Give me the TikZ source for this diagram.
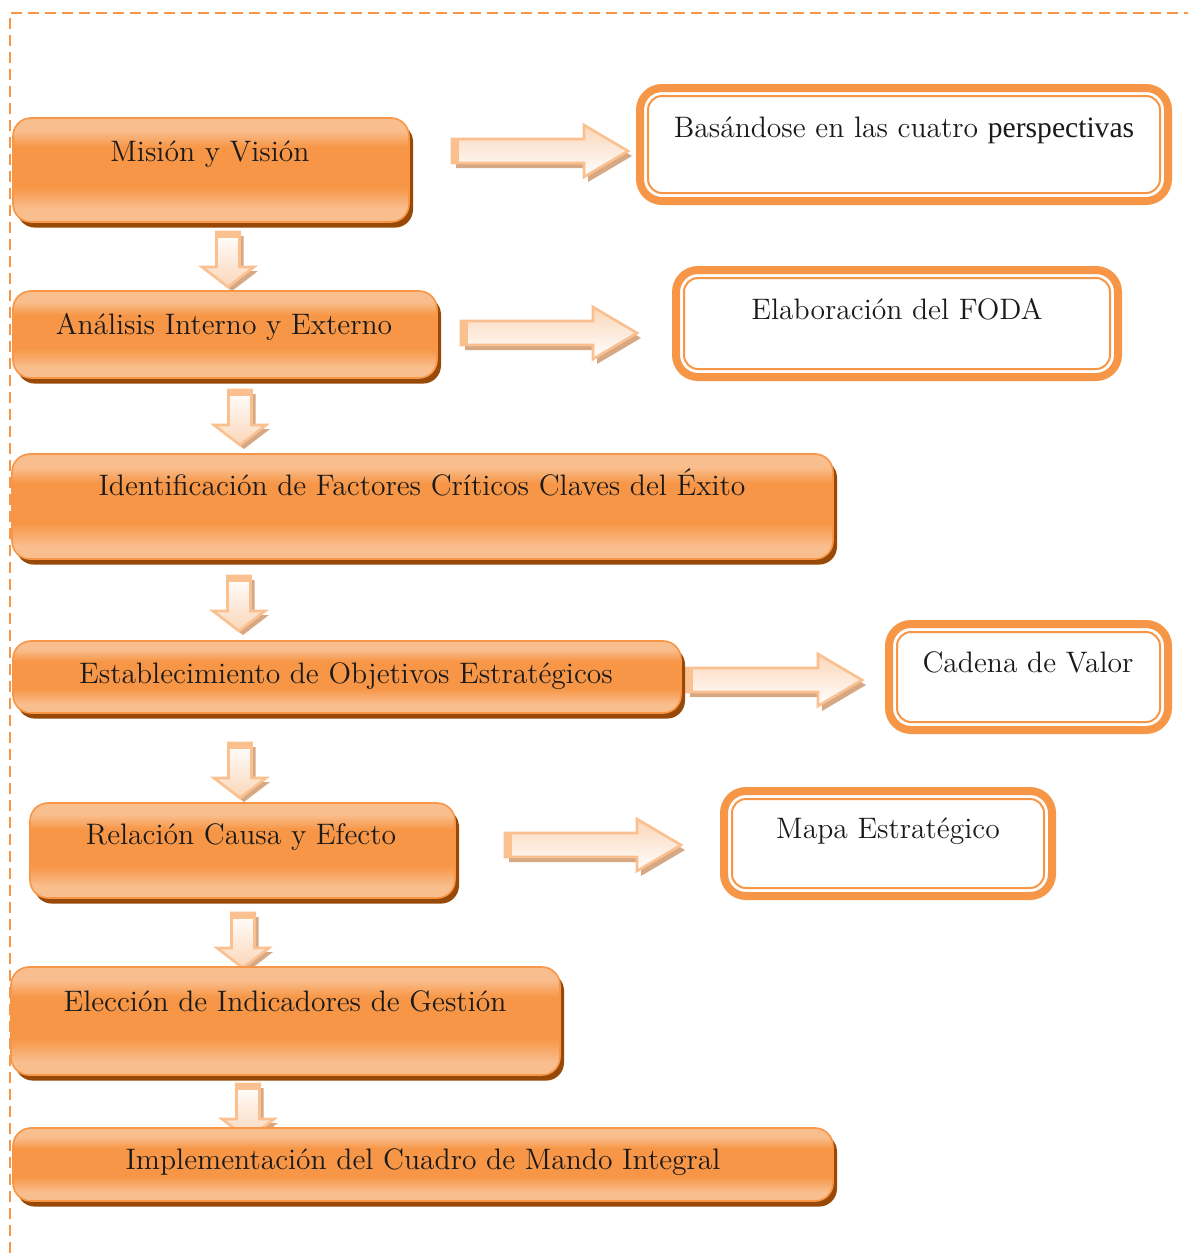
\documentclass[tikz,border=0pt]{standalone}
\usepackage{fontspec}
\usepackage{graphicx}
\newfontfamily\timesfont{Liberation Serif}
\usetikzlibrary{shadows,fit}

\definecolor{oorange}{HTML}{F79646}
\definecolor{olight}{HTML}{F9BE8E}
\definecolor{oshadow}{HTML}{984807}
\definecolor{apeach}{HTML}{FAC090}
\definecolor{afill}{HTML}{FBD6B8}
\definecolor{ashade}{HTML}{D6A883}
\definecolor{txt}{HTML}{1A1A1A}

% light band at top and bottom, saturated orange across the middle
\pgfdeclareverticalshading{obar}{100bp}{color(0bp)=(olight); color(31bp)=(olight); color(42bp)=(oorange); color(61bp)=(oorange); color(69bp)=(olight); color(100bp)=(olight)}

\begin{document}
\begin{tikzpicture}[x=0.5pt,y=-0.5pt,
  obox/.style={draw=oorange, line width=0.8pt, rounded corners=9pt, shading=obar,
    inner sep=0pt, drop shadow={shadow xshift=2pt, shadow yshift=-2.8pt, fill=oshadow, opacity=1}},
  rbox/.style={draw=oorange, line width=4pt, rounded corners=11pt, fill=white, inner sep=0pt},
  rinner/.style={draw=oorange, line width=1pt, rounded corners=7pt, inner sep=0pt},
  lbl/.style={text=txt, font=\fontsize{14.8}{17}\selectfont, inner sep=0pt, anchor=base},
  ashadow/.style={fill=ashade},
  abodyh/.style={draw=apeach, line width=1.3pt, line join=miter, top color=afill, bottom color=white},
  abodyv/.style={draw=apeach, line width=1.3pt, line join=miter, top color=white, bottom color=afill},
  rarrow/.pic={
    \fill[ashadow] (4,-7) -- (136,-7) -- (136,-21) -- (180,5) -- (136,31) -- (136,17) -- (4,17) -- cycle;
    \draw[abodyh] (0,-12) -- (132,-12) -- (132,-26) -- (176,0) -- (132,26) -- (132,12) -- (0,12) -- cycle;
    \fill[apeach] (0,-12) rectangle (7,12);
  },
  darrow/.pic={
    \fill[ashadow] (-7.5,4) -- (-7.5,39) -- (-22,39) -- (4,59) -- (30,39) -- (15.5,39) -- (15.5,4) -- cycle;
    \draw[abodyv] (-11.5,0) -- (-11.5,35) -- (-26,35) -- (0,55) -- (26,35) -- (11.5,35) -- (11.5,0) -- cycle;
    \fill[apeach] (-11.5,0) rectangle (11.5,6);
  }
]
\useasboundingbox (0,0) rectangle (1188,1253);

% dashed frame
\draw[oorange, line width=1.2pt, dash pattern=on 5.5pt off 3pt] (10,1253) -- (10,13) -- (1188,13);

% block arrows between the steps
\pic (d1) at (228,232) {darrow};
\pic (d2) at (240,390) {darrow};
\pic (d3) at (239,576) {darrow};
\pic (d4) at (240,743) {darrow};
\pic (d5) at (243,913) {darrow};
\pic (d6) at (248,1084) {darrow};

\pic (r1) at (452,151) {rarrow};
\pic (r2) at (461,333) {rarrow};
\pic (r3) at (686,680) {rarrow};
\pic (r4) at (505,845) {rarrow};

% main steps
\node[obox, fit={(13,118) (409,222)}] (mision) {};
\node[obox, fit={(13,291) (437,378)}] (analisis) {};
\node[obox, fit={(12,454) (833,559)}] (factores) {};
\node[obox, fit={(13,641) (681,713)}] (objetivos) {};
\node[obox, fit={(30,803) (455,898)}] (causa) {};
\node[obox, fit={(11,967) (560,1075)}] (indicadores) {};
\node[obox, fit={(13,1128) (833,1201)}] (cmi) {};

\node[lbl] (misionT) at (210,161) {Misión y Visión};
\node[lbl] (analisisT) at (224,334) {Análisis Interno y Externo};
\node[lbl] (factoresT) at (422,495) {Identificación de Factores Críticos Claves del Éxito};
\node[lbl] (objetivosT) at (346,683) {Establecimiento de Objetivos Estratégicos};
\node[lbl] (causaT) at (241,844) {Relación Causa y Efecto};
\node[lbl] (indicadoresT) at (285,1011) {Elección de Indicadores de Gestión};
\node[lbl] (cmiT) at (423,1169) {Implementación del Cuadro de Mando Integral};

% side results, framed by a thick outer line and a thin inner line
\node[rbox, fit={(640,88) (1168,201)}] (persp) {};
\node[rbox, fit={(676,270) (1118,377)}] (foda) {};
\node[rbox, fit={(889,624) (1168,730)}] (valor) {};
\node[rbox, fit={(724,791) (1052,896)}] (mapa) {};
\node[rinner, fit={(648,96) (1160,193)}] (perspIn) {};
\node[rinner, fit={(684,278) (1110,369)}] (fodaIn) {};
\node[rinner, fit={(897,632) (1160,722)}] (valorIn) {};
\node[rinner, fit={(732,799) (1044,888)}] (mapaIn) {};

\node[lbl] (perspT) at (904,137) {Basándose en las cuatro {\timesfont perspectivas}};
\node[lbl] (fodaT) at (897,319) {Elaboración del FODA};
\node[lbl] (valorT) at (1028,672) {Cadena de Valor};
\node[lbl] (mapaT) at (888,838) {Mapa Estratégico};
\end{tikzpicture}
\end{document}
